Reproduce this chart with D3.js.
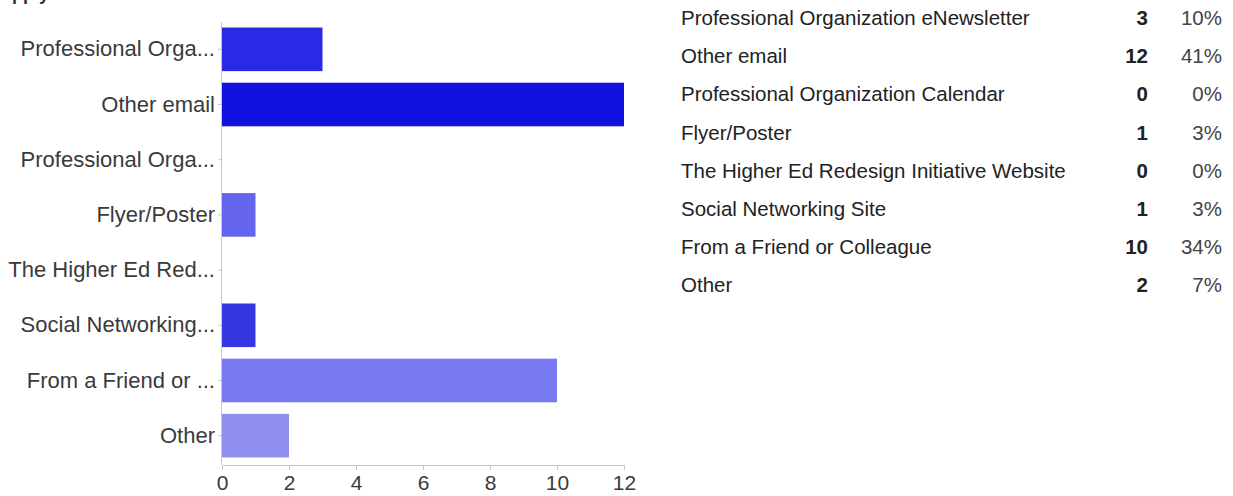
<!DOCTYPE html>
<html><head><meta charset="utf-8">
<script src="https://cdn.jsdelivr.net/npm/d3@7"></script>
<style>
html,body{margin:0;padding:0;background:#fff;}
svg{display:block;font-family:"Liberation Sans",Arial,sans-serif;}
</style></head>
<body><svg id="c" width="1233" height="496"></svg>
<script>
const categories = ["Professional Organization eNewsletter","Other email","Professional Organization Calendar","Flyer/Poster","The Higher Ed Redesign Initiative Website","Social Networking Site","From a Friend or Colleague","Other"];
const shortLabels = ["Professional Orga...","Other email","Professional Orga...","Flyer/Poster","The Higher Ed Red...","Social Networking...","From a Friend or ...","Other"];
const counts = [3,12,0,1,0,1,10,2];
const percents = ["10%","41%","0%","3%","0%","3%","34%","7%"];
const xTicks = [0,2,4,6,8,10,12];
const barColors = ["#2a2ae6","#1212e0","#2a2ae6","#6464ec","#4848e8","#3636e2","#7878f2","#9090f0"];

const svg = d3.select("#c");

// cut-off title at top
svg.append("text").attr("x",2).attr("y",0).attr("font-size",18).attr("font-weight","bold").attr("fill","#333").text("apply");

const x = d3.scaleLinear().domain([0,12]).range([222,624]);
const y = d3.scaleBand().domain(d3.range(categories.length)).range([22,463]).paddingInner(0.21).paddingOuter(0.1);

// bars
svg.selectAll("rect.bar").data(counts).join("rect").attr("class","bar")
  .attr("x",x(0)).attr("y",(d,i)=>y(i)).attr("width",d=>x(d)-x(0)).attr("height",y.bandwidth())
  .attr("fill",(d,i)=>barColors[i]);

// left axis
const yAxis = d3.axisLeft(y).tickFormat(i=>shortLabels[i]).tickSize(4).tickPadding(3);
const gy = svg.append("g").attr("transform",`translate(${x(0)},0)`).call(yAxis);
gy.select(".domain").attr("stroke","#c8c8c8").attr("d",`M-0.5,22V465`);
gy.selectAll(".tick line").attr("stroke","#c8c8c8");
gy.selectAll(".tick text").attr("font-size",22).attr("fill","#3a3a3a").attr("font-family","Liberation Sans, Arial, sans-serif");

// bottom axis
const xAxis = d3.axisBottom(x).tickValues(xTicks).tickSize(5).tickPadding(5);
const gx = svg.append("g").attr("transform","translate(0,465)").call(xAxis);
gx.select(".domain").attr("stroke","#c8c8c8").attr("d",`M${x(0)},0.5H${x(12)}`);
gx.selectAll(".tick line").attr("stroke","#c8c8c8");
gx.selectAll(".tick text").attr("font-size",21).attr("fill","#3a3a3a").attr("font-family","Liberation Sans, Arial, sans-serif");

// summary table
const rowY = d3.scaleLinear().domain([0,7]).range([18,285]);
const tbl = svg.append("g").attr("font-size",20.5).attr("fill","#222");
tbl.selectAll("text.lab").data(categories).join("text").attr("class","lab")
  .attr("x",681).attr("y",(d,i)=>rowY(i)).attr("dy","0.35em").text(d=>d);
tbl.selectAll("text.cnt").data(counts).join("text").attr("class","cnt")
  .attr("x",1148).attr("y",(d,i)=>rowY(i)).attr("dy","0.35em").attr("text-anchor","end").attr("font-weight","bold").text(d=>d);
tbl.selectAll("text.pct").data(percents).join("text").attr("class","pct")
  .attr("x",1222).attr("y",(d,i)=>rowY(i)).attr("dy","0.35em").attr("text-anchor","end").attr("fill","#444").text(d=>d);
</script></body></html>
